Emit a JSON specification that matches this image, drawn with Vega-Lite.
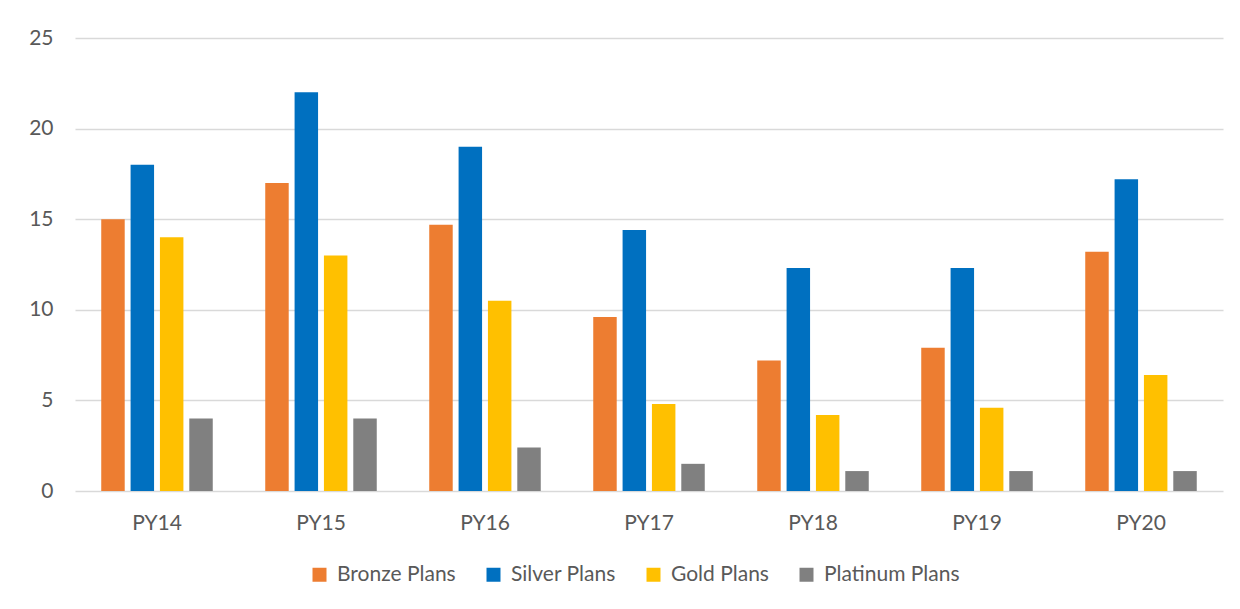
{
  "$schema": "https://vega.github.io/schema/vega-lite/v6.json",
  "autosize": {"type": "none"},
  "width": 1148,
  "height": 453,
  "padding": {"left": 75, "top": 38, "right": 17, "bottom": 118},
  "background": "white",
  "data": {
    "values": [
      {"year": "PY14", "plan": "Bronze Plans", "value": 15},
      {"year": "PY14", "plan": "Silver Plans", "value": 18},
      {"year": "PY14", "plan": "Gold Plans", "value": 14},
      {"year": "PY14", "plan": "Platinum Plans", "value": 4},
      {"year": "PY15", "plan": "Bronze Plans", "value": 17},
      {"year": "PY15", "plan": "Silver Plans", "value": 22},
      {"year": "PY15", "plan": "Gold Plans", "value": 13},
      {"year": "PY15", "plan": "Platinum Plans", "value": 4},
      {"year": "PY16", "plan": "Bronze Plans", "value": 14.7},
      {"year": "PY16", "plan": "Silver Plans", "value": 19},
      {"year": "PY16", "plan": "Gold Plans", "value": 10.5},
      {"year": "PY16", "plan": "Platinum Plans", "value": 2.4},
      {"year": "PY17", "plan": "Bronze Plans", "value": 9.6},
      {"year": "PY17", "plan": "Silver Plans", "value": 14.4},
      {"year": "PY17", "plan": "Gold Plans", "value": 4.8},
      {"year": "PY17", "plan": "Platinum Plans", "value": 1.5},
      {"year": "PY18", "plan": "Bronze Plans", "value": 7.2},
      {"year": "PY18", "plan": "Silver Plans", "value": 12.3},
      {"year": "PY18", "plan": "Gold Plans", "value": 4.2},
      {"year": "PY18", "plan": "Platinum Plans", "value": 1.1},
      {"year": "PY19", "plan": "Bronze Plans", "value": 7.9},
      {"year": "PY19", "plan": "Silver Plans", "value": 12.3},
      {"year": "PY19", "plan": "Gold Plans", "value": 4.6},
      {"year": "PY19", "plan": "Platinum Plans", "value": 1.1},
      {"year": "PY20", "plan": "Bronze Plans", "value": 13.2},
      {"year": "PY20", "plan": "Silver Plans", "value": 17.2},
      {"year": "PY20", "plan": "Gold Plans", "value": 6.4},
      {"year": "PY20", "plan": "Platinum Plans", "value": 1.1}
    ]
  },
  "mark": {"type": "bar"},
  "encoding": {
    "x": {
      "field": "year",
      "type": "nominal",
      "sort": null,
      "scale": {"paddingInner": 0.32, "paddingOuter": 0.16},
      "axis": {
        "title": null,
        "labelAngle": 0,
        "ticks": false,
        "domain": false,
        "labelPadding": 21,
        "labelFont": "Lato",
        "labelFontSize": 21,
        "labelColor": "#595959"
      }
    },
    "xOffset": {
      "field": "plan",
      "type": "nominal",
      "sort": ["Bronze Plans", "Silver Plans", "Gold Plans", "Platinum Plans"],
      "scale": {"paddingInner": 0.2, "paddingOuter": 0}
    },
    "y": {
      "field": "value",
      "type": "quantitative",
      "scale": {"domain": [0, 25]},
      "axis": {
        "title": null,
        "values": [0, 5, 10, 15, 20, 25],
        "ticks": false,
        "domain": false,
        "labelPadding": 22,
        "labelFont": "Lato",
        "labelFontSize": 21,
        "labelColor": "#595959",
        "gridColor": "#D9D9D9",
        "gridWidth": 1.5
      }
    },
    "color": {
      "field": "plan",
      "type": "nominal",
      "sort": ["Bronze Plans", "Silver Plans", "Gold Plans", "Platinum Plans"],
      "scale": {
        "domain": ["Bronze Plans", "Silver Plans", "Gold Plans", "Platinum Plans"],
        "range": ["#ED7D31", "#0070C0", "#FFC000", "#808080"]
      },
      "legend": {
        "title": null,
        "orient": "none",
        "direction": "horizontal",
        "legendX": 234,
        "legendY": 526,
        "symbolType": "square",
        "symbolSize": 196,
        "symbolStrokeWidth": 0,
        "labelFont": "Lato",
        "labelFontSize": 21,
        "labelColor": "#595959",
        "labelOffset": 7,
        "columnPadding": 27
      }
    }
  },
  "config": {
    "view": {"stroke": null}
  }
}
